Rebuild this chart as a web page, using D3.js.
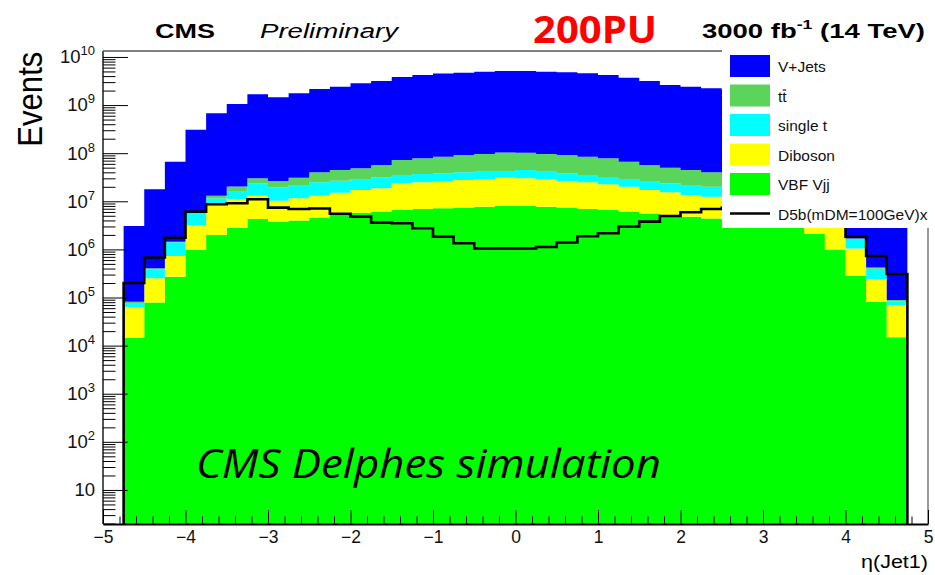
<!DOCTYPE html>
<html>
<head>
<meta charset="utf-8">
<script src="https://cdn.jsdelivr.net/npm/d3@7"></script>
<style>
  body { margin: 0; background: #fff; }
  svg { display: block; font-family: "Liberation Sans", Arial, sans-serif; }
</style>
</head>
<body>
<div id="my_dataviz"></div>
<script>
// eta(Jet1) bins: lower edges, all bins 0.25 wide
const binEdges = [-4.75, -4.5, -4.25, -4, -3.75, -3.5, -3.25, -3, -2.75, -2.5,
  -2.25, -2, -1.75, -1.5, -1.25, -1, -0.75, -0.5, -0.25, 0,
  0.25, 0.5, 0.75, 1, 1.25, 1.5, 1.75, 2, 2.25, 2.5,
  2.75, 3, 3.25, 3.5, 3.75, 4, 4.25, 4.5];
const binWidth = 0.25;

// events per bin, per process (stacked bottom -> top)
const vbfVjj = [1.46e4, 7.9e4, 2.7e5, 9.7e5, 2.0e6, 2.8e6, 4.3e6, 3.8e6, 4.0e6, 4.6e6,
  5.2e6, 5.8e6, 6.1e6, 6.6e6, 6.9e6, 7.2e6, 7.4e6, 7.7e6, 8.0e6, 8.0e6,
  7.7e6, 7.4e6, 6.9e6, 6.6e6, 6.1e6, 5.6e6, 5.2e6, 4.8e6, 4.4e6, 4.1e6,
  3.7e6, 3.4e6, 2.8e6, 2.1e6, 1.0e6, 2.8e5, 8.2e4, 1.5e4];
const diboson = [4.9e4, 1.72e5, 4.6e5, 2.2e6, 6.2e6, 8.4e6, 8.8e6, 6.5e6, 7.5e6, 8.5e6,
  9.9e6, 1.14e7, 1.25e7, 1.7e7, 1.79e7, 1.84e7, 2.03e7, 2.14e7, 2.3e7, 2.2e7,
  2.14e7, 1.9e7, 1.79e7, 1.59e7, 1.4e7, 1.16e7, 1.02e7, 8.7e6, 8.1e6, 7.6e6,
  7.0e6, 6.8e6, 7.4e6, 5.5e6, 2.2e6, 7.7e5, 1.6e5, 5.5e4];
const singleTop = [1.3e4, 1.35e5, 6.7e5, 2.6e6, 3.2e6, 4.6e6, 1.06e7, 9.2e6, 1.03e7, 1.17e7,
  1.17e7, 1.19e7, 1.29e7, 1.04e7, 1.22e7, 1.27e7, 1.24e7, 1.21e7, 1.17e7, 1.47e7,
  1.21e7, 1.18e7, 1.04e7, 8.5e6, 9.0e6, 9.2e6, 8.3e6, 8.3e6, 7.6e6, 7.2e6,
  6.5e6, 5.2e6, 4.7e6, 3.6e6, 2.5e6, 6.0e5, 1.54e5, 1.3e4];
const ttbar = [5e3, 1.9e4, 5e4, 1e5, 1.7e6, 4.5e6, 6.3e6, 6.9e6, 9.2e6, 1.53e7,
  1.79e7, 1.94e7, 2.54e7, 3.8e7, 4.13e7, 4.64e7, 5.17e7, 5.5e7, 6.1e7, 5.7e7,
  5.5e7, 5.36e7, 4.94e7, 4.73e7, 3.74e7, 3.05e7, 2.63e7, 2.29e7, 2.0e7, 1.63e7,
  1.34e7, 9.8e6, 4.9e6, 1.8e6, 5.7e5, 4e4, 2.3e4, 6e3];
const vJets = [2.99e6, 1.73e7, 6.5e7, 3.0e8, 6.6e8, 1.03e9, 1.65e9, 1.42e9, 1.73e9, 2.12e9,
  2.37e9, 2.79e9, 3.11e9, 3.77e9, 4.14e9, 4.42e9, 4.63e9, 4.85e9, 5.02e9, 5.02e9,
  4.85e9, 4.72e9, 4.5e9, 4.14e9, 3.64e9, 3.11e9, 2.57e9, 2.37e9, 2.2e9, 2.02e9,
  1.67e9, 1.38e9, 1.03e9, 6.6e8, 3.02e8, 6.48e7, 1.73e7, 2.98e6];
// signal D5b (mDM = 100 GeV), scaled
const signalD5b = [2.0e5, 6.8e5, 1.75e6, 6.1e6, 8.7e6, 9.1e6, 1.1e7, 7.4e6, 6.9e6, 7.1e6,
  5.5e6, 4.8e6, 3.6e6, 3.5e6, 2.75e6, 1.84e6, 1.34e6, 1.05e6, 1.05e6, 1.05e6,
  1.12e6, 1.39e6, 1.87e6, 2.16e6, 3.0e6, 3.77e6, 4.95e6, 5.9e6, 6.9e6, 7.3e6,
  8.0e6, 8.5e6, 9.0e6, 8.5e6, 6.0e6, 1.84e6, 7.3e5, 3.08e5];

const stackKeys = ["vbf", "dib", "st", "tt", "vj"];
const stackColors = { vbf: "#00ff00", dib: "#ffff00", st: "#00ffff", tt: "#5ad45a", vj: "#0000ff" };
// legend order (top -> bottom)
const legendKeys = ["vj", "tt", "st", "dib", "vbf"];
const legendLabels = { vj: "V+Jets", tt: "tt", st: "single t", dib: "Diboson", vbf: "VBF Vjj" };
const signalLabel = "D5b(mDM=100GeV)x";

const xTicks = [-5, -4, -3, -2, -1, 0, 1, 2, 3, 4, 5];
const yDecades = [1, 2, 3, 4, 5, 6, 7, 8, 9, 10];
const yMin = 1.96, yMax = 1.33e10;

// canvas
const W = 935, H = 575;
const frame = { left: 103, right: 928, top: 51, bottom: 524 };

const svg = d3.select("#my_dataviz")
  .append("svg")
  .attr("width", W)
  .attr("height", H);

const x = d3.scaleLinear().domain([-5, 5]).range([frame.left, frame.right]);
const y = d3.scaleLog().domain([yMin, yMax]).range([frame.bottom, frame.top]);

// table for the stack
const rows = binEdges.map((lo, i) => ({
  lo: lo,
  vbf: vbfVjj[i], dib: diboson[i], st: singleTop[i], tt: ttbar[i], vj: vJets[i]
}));
const series = d3.stack().keys(stackKeys)(rows);

const clampY = v => y(Math.max(v, yMin));

const area = d3.area()
  .curve(d3.curveStepAfter)
  .x(d => x(d.lo))
  .y0(d => clampY(d.v0))
  .y1(d => clampY(d.v1));

series.forEach(s => {
  const pts = s.map(d => ({ lo: d.data.lo, v0: d[0], v1: d[1] }));
  const last = pts[pts.length - 1];
  pts.push({ lo: last.lo + binWidth, v0: last.v0, v1: last.v1 });
  svg.append("path")
    .datum(pts)
    .attr("fill", stackColors[s.key])
    .attr("d", area);
});

// signal histogram outline
const sigPts = [[binEdges[0], yMin]];
binEdges.forEach((lo, i) => sigPts.push([lo, signalD5b[i]]));
sigPts.push([binEdges[binEdges.length - 1] + binWidth, signalD5b[signalD5b.length - 1]]);
sigPts.push([binEdges[binEdges.length - 1] + binWidth, yMin]);

svg.append("path")
  .datum(sigPts)
  .attr("fill", "none")
  .attr("stroke", "#000")
  .attr("stroke-width", 2.6)
  .attr("d", d3.line().curve(d3.curveStepAfter).x(d => x(d[0])).y(d => clampY(d[1])));

// frame
svg.append("line").attr("x1", frame.left).attr("x2", frame.right).attr("y1", frame.top).attr("y2", frame.top)
  .attr("stroke", "#000").attr("stroke-width", 1.2);
svg.append("line").attr("x1", frame.right).attr("x2", frame.right).attr("y1", frame.top).attr("y2", frame.bottom)
  .attr("stroke", "#777").attr("stroke-width", 1.5);
svg.append("line").attr("x1", frame.left).attr("x2", frame.left).attr("y1", frame.top).attr("y2", frame.bottom)
  .attr("stroke", "#555").attr("stroke-width", 2);

// x axis, ticks point up into the frame
const xMinor = d3.range(-50, 51, 2).map(v => v / 10).filter(v => !Number.isInteger(v));
svg.append("g")
  .attr("transform", `translate(0,${frame.bottom})`)
  .call(d3.axisBottom(x).tickValues(xMinor).tickSizeInner(-7.5).tickSizeOuter(0).tickFormat(""))
  .call(g => g.select(".domain").remove());

const xAxis = svg.append("g")
  .attr("transform", `translate(0,${frame.bottom})`)
  .call(d3.axisBottom(x).tickValues(xTicks).tickSizeInner(-14).tickSizeOuter(0).tickPadding(7));
xAxis.select(".domain").attr("stroke-width", 2.2);
xAxis.selectAll("text")
  .attr("font-size", 17.5)
  .attr("font-family", "Liberation Sans, Arial, sans-serif")
  .attr("fill", "#111");

// y axis, log, ticks point right into the frame
const yMinorVals = [];
for (let e = 0; e <= 10; e++) {
  for (let k = 2; k <= 9; k++) {
    const v = k * Math.pow(10, e);
    if (v > yMin && v < yMax) yMinorVals.push(v);
  }
}
svg.append("g")
  .attr("transform", `translate(${frame.left},0)`)
  .call(d3.axisLeft(y).tickValues(yMinorVals).tickSizeInner(-12.5).tickSizeOuter(0).tickFormat(""))
  .call(g => g.select(".domain").remove());

const yAxis = svg.append("g")
  .attr("transform", `translate(${frame.left},0)`)
  .call(d3.axisLeft(y).tickValues(yDecades.map(e => Math.pow(10, e)))
    .tickSizeInner(-25).tickSizeOuter(0).tickPadding(8).tickFormat(""))
  .call(g => g.select(".domain").remove());

yAxis.selectAll(".tick text")
  .attr("font-size", 18.5)
  .attr("font-family", "Liberation Sans, Arial, sans-serif")
  .attr("fill", "#111")
  .each(function (d) {
    const t = d3.select(this);
    const e = Math.round(Math.log10(d));
    t.append("tspan").text("10");
    if (e !== 1) {
      t.append("tspan").attr("font-size", 13).attr("dy", "-0.62em").text(e);
    }
  });

// legend
const lg = svg.append("g");
lg.append("rect").attr("x", 722).attr("y", 47).attr("width", 213).attr("height", 181).attr("fill", "#fff");

legendKeys.forEach((k, i) => {
  const cy = 66 + i * 29.5;
  lg.append("rect")
    .attr("x", 730).attr("y", cy - 11).attr("width", 40).attr("height", 22)
    .attr("fill", stackColors[k]);
  const t = lg.append("text")
    .attr("x", 778).attr("y", cy + 6)
    .attr("font-size", 15.5)
    .attr("fill", "#111")
    .text(legendLabels[k]);
  if (k === "tt") {
    // bar over the second t
    const r = t.node().getExtentOfChar(1);
    lg.append("line")
      .attr("x1", r.x + 0.5).attr("x2", r.x + r.width - 0.5)
      .attr("y1", r.y + 2.5).attr("y2", r.y + 2.5)
      .attr("stroke", "#111").attr("stroke-width", 1.2);
  }
});
const sigY = 66 + 5 * 29.5;
lg.append("line").attr("x1", 730).attr("x2", 770).attr("y1", sigY).attr("y2", sigY)
  .attr("stroke", "#000").attr("stroke-width", 2.6);
lg.append("text").attr("x", 778).attr("y", sigY + 6).attr("font-size", 15.5).attr("fill", "#111")
  .text(signalLabel);

// titles
svg.append("text").attr("x", 155).attr("y", 38)
  .attr("font-size", 20.5).attr("font-weight", "bold")
  .attr("textLength", 60).attr("lengthAdjust", "spacingAndGlyphs")
  .text("CMS");

svg.append("text").attr("x", 260).attr("y", 38)
  .attr("font-size", 20.5).attr("font-style", "italic")
  .attr("textLength", 138).attr("lengthAdjust", "spacingAndGlyphs")
  .text("Preliminary");

svg.append("text").attr("x", 533).attr("y", 43.3)
  .attr("font-family", "Open Sans, sans-serif")
  .attr("font-size", 37).attr("font-weight", "bold").attr("fill", "#f00")
  .attr("textLength", 124).attr("lengthAdjust", "spacingAndGlyphs")
  .text("200PU");

const lumi = svg.append("text").attr("y", 38)
  .attr("font-size", 21).attr("font-weight", "bold");
lumi.append("tspan").text("3000 fb");
lumi.append("tspan").attr("font-size", 13.5).attr("dy", -9).text("-1");
lumi.append("tspan").attr("dy", 9).text(" (14 TeV)");
const lb = lumi.node().getBBox();
lumi.attr("transform", `translate(702,0) scale(${223 / lb.width},1) translate(${-lb.x},0)`);

// y title
svg.append("text")
  .attr("transform", "translate(41.5,146.7) rotate(-90)")
  .attr("font-size", 35)
  .attr("textLength", 95).attr("lengthAdjust", "spacingAndGlyphs")
  .text("Events");

// x title
svg.append("text")
  .attr("x", 861).attr("y", 568)
  .attr("font-size", 18)
  .attr("textLength", 67).attr("lengthAdjust", "spacingAndGlyphs")
  .text("η(Jet1)");

// overlay label
svg.append("text")
  .attr("x", 196).attr("y", 478.3)
  .attr("font-family", "Open Sans, sans-serif")
  .attr("font-size", 40).attr("font-style", "italic")
  .attr("textLength", 465).attr("lengthAdjust", "spacingAndGlyphs")
  .text("CMS Delphes simulation");
</script>
</body>
</html>
